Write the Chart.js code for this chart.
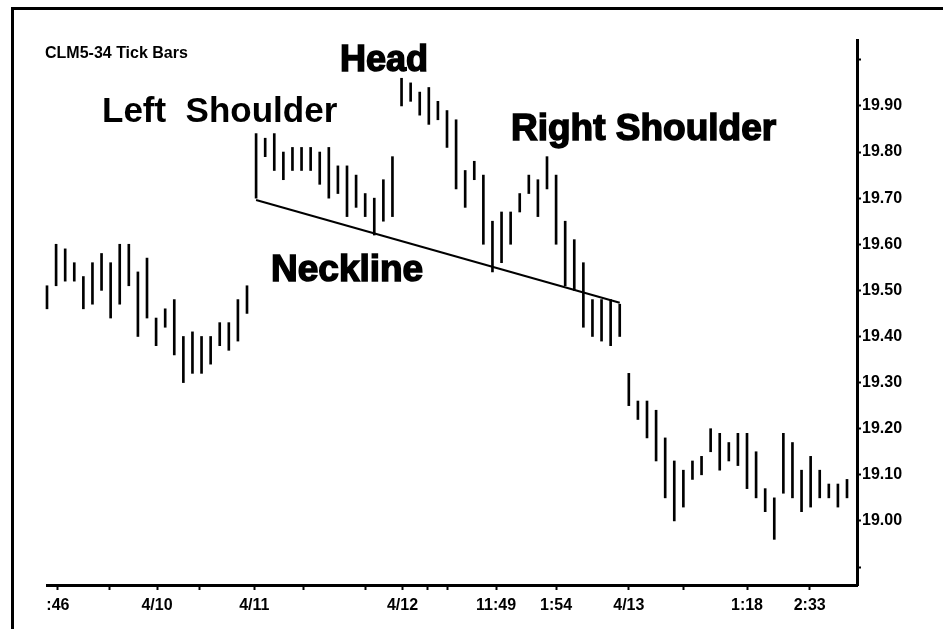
<!DOCTYPE html>
<html>
<head>
<meta charset="utf-8">
<script src="https://cdn.jsdelivr.net/npm/chart.js@4.4.0/dist/chart.umd.min.js"></script>
<style>
  body { margin: 0; background: #fff; }
  #wrap { width: 943px; height: 629px; }
</style>
</head>
<body>
<div id="wrap"><canvas id="tickChart" width="943" height="629"></canvas></div>
<script>
// CLM5 34 tick bars - head & shoulders, bar index on x, price on y
const highs = [19.51, 19.60, 19.59, 19.56, 19.53, 19.56, 19.58, 19.56, 19.60, 19.60,
  19.54, 19.57, 19.44, 19.46, 19.48, 19.40, 19.41, 19.40, 19.40, 19.43,
  19.43, 19.48, 19.51, 19.84, 19.83, 19.84, 19.80, 19.81, 19.81, 19.81,
  19.80, 19.81, 19.77, 19.77, 19.75, 19.71, 19.70, 19.74, 19.79, 19.96,
  19.95, 19.93, 19.94, 19.91, 19.89, 19.87, 19.76, 19.78, 19.75, 19.65,
  19.67, 19.67, 19.71, 19.75, 19.74, 19.79, 19.75, 19.65, 19.61, 19.56,
  19.48, 19.48, 19.48, 19.47, 19.32, 19.26, 19.26, 19.24, 19.18, 19.13,
  19.11, 19.13, 19.14, 19.20, 19.19, 19.17, 19.19, 19.19, 19.15, 19.07,
  19.05, 19.19, 19.17, 19.11, 19.14, 19.11, 19.08, 19.08, 19.09];
const lows = [19.46, 19.51, 19.52, 19.52, 19.46, 19.47, 19.50, 19.44, 19.47, 19.51,
  19.40, 19.44, 19.38, 19.42, 19.36, 19.30, 19.32, 19.32, 19.34, 19.38,
  19.37, 19.39, 19.45, 19.70, 19.79, 19.76, 19.74, 19.76, 19.76, 19.76,
  19.73, 19.70, 19.71, 19.66, 19.68, 19.66, 19.62, 19.65, 19.66, 19.90,
  19.91, 19.88, 19.86, 19.87, 19.81, 19.72, 19.68, 19.74, 19.60, 19.54,
  19.56, 19.60, 19.67, 19.71, 19.66, 19.72, 19.60, 19.51, 19.50, 19.42,
  19.40, 19.39, 19.38, 19.40, 19.25, 19.22, 19.18, 19.13, 19.05, 19.00,
  19.03, 19.09, 19.10, 19.15, 19.11, 19.13, 19.12, 19.07, 19.05, 19.02,
  18.96, 19.06, 19.05, 19.02, 19.03, 19.05, 19.05, 19.03, 19.05];

// neckline end points (bar index, price)
const necklineX = [23, 63];
const necklineY = [19.696, 19.473];

// x axis ticks (bar index) and their labels, '' = unlabelled tick
const xTickPos = [1.2, 6.9, 12.1, 16.8, 22.8, 28.2, 35, 39.1, 41.9, 44.1, 49.4, 56, 64, 70, 77, 83.9];
const xTickLabels = [':46', '', '4/10', '', '4/11', '', '', '4/12', '', '', '11:49', '1:54', '4/13', '', '1:18', '2:33'];

// y axis ticks
const yTicks = [18.9, 19.0, 19.1, 19.2, 19.3, 19.4, 19.5, 19.6, 19.7, 19.8, 19.9, 20.0];
const yLabelled = [19.0, 19.1, 19.2, 19.3, 19.4, 19.5, 19.6, 19.7, 19.8, 19.9];

const barData = highs.map((h, i) => ({ x: i, y: [lows[i], h] }));
const neckData = necklineX.map((x, i) => ({ x: x, y: necklineY[i] }));

// frame and pattern captions
const decorations = {
  id: 'decorations',
  beforeDraw(chart) {
    const c = chart.ctx;
    c.save();
    c.fillStyle = '#fff';
    c.fillRect(0, 0, chart.width, chart.height);
    c.fillStyle = '#000';
    c.fillRect(11, 7, 3, chart.height - 7);
    c.fillRect(11, 7, chart.width - 11, 3);
    c.restore();
  },
  afterDraw(chart) {
    const c = chart.ctx;
    c.save();
    c.fillStyle = '#000';
    c.strokeStyle = '#000';
    c.textBaseline = 'alphabetic';
    c.font = 'bold 16px "Liberation Sans", Arial, sans-serif';
    c.fillText('CLM5-34 Tick Bars', 45, 58);
    c.font = 'bold 35px "Liberation Sans", Arial, sans-serif';
    c.fillText('Left  Shoulder', 102, 122);
    c.lineWidth = 1.5;
    [['Head', 340, 71, 36], ['Right Shoulder', 511, 140, 37], ['Neckline', 271, 281, 37]].forEach(t => {
      c.font = 'bold ' + t[3] + 'px "Liberation Sans", Arial, sans-serif';
      c.fillText(t[0], t[1], t[2]);
      c.strokeText(t[0], t[1], t[2]);
    });
    c.restore();
  }
};

new Chart(document.getElementById('tickChart'), {
  type: 'bar',
  data: {
    datasets: [{
      label: 'CLM5',
      data: barData,
      backgroundColor: '#000',
      borderWidth: 0,
      barThickness: 2,
      grouped: false,
      clip: 5
    }, {
      type: 'line',
      label: 'Neckline',
      data: neckData,
      borderColor: '#000',
      borderWidth: 2,
      pointRadius: 0,
      fill: false
    }]
  },
  options: {
    responsive: false,
    animation: false,
    layout: { padding: { left: 47, top: 40, right: 0, bottom: 0 } },
    plugins: {
      legend: { display: false },
      tooltip: { enabled: false }
    },
    scales: {
      x: {
        type: 'linear',
        offset: false,
        min: 0,
        max: 89.1,
        afterFit: (scale) => { scale.height = 44; },
        afterBuildTicks: (scale) => { scale.ticks = xTickPos.map(v => ({ value: v })); },
        border: { display: true, width: 3, color: '#000' },
        grid: { offset: false, drawOnChartArea: false, drawTicks: true, tickLength: 5, tickWidth: 2, tickColor: '#000' },
        ticks: {
          autoSkip: false,
          maxRotation: 0,
          padding: 6,
          color: '#000',
          font: { family: '"Liberation Sans", Arial, sans-serif', size: 16, weight: 'bold' },
          callback: (v, i) => xTickLabels[i]
        }
      },
      y: {
        type: 'linear',
        position: 'right',
        min: 18.861,
        max: 20.043,
        afterFit: (scale) => { scale.width = 86; },
        afterBuildTicks: (scale) => { scale.ticks = yTicks.map(v => ({ value: v })); },
        border: { display: true, width: 3, color: '#000' },
        grid: { drawOnChartArea: false, drawTicks: true, tickLength: 4, tickWidth: 2, tickColor: '#000' },
        ticks: {
          padding: 1,
          color: '#000',
          font: { family: '"Liberation Sans", Arial, sans-serif', size: 16, weight: 'bold' },
          callback: (v) => yLabelled.some(t => Math.abs(t - v) < 1e-6) ? v.toFixed(2) : ''
        }
      }
    }
  },
  plugins: [decorations]
});
</script>
</body>
</html>
